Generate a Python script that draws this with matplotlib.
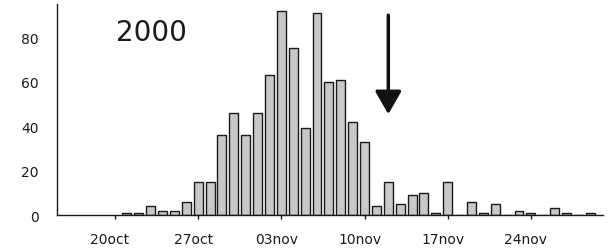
import matplotlib
matplotlib.use("Agg")
import matplotlib.pyplot as plt
import matplotlib.transforms as mtransforms
import numpy as np

# Daily counts, 21 Oct - 29 Nov 2000
days = np.arange(np.datetime64("2000-10-21"), np.datetime64("2000-11-30"))
counts = [1, 1, 4, 2, 2, 6, 15, 15, 36, 46, 36,
          46, 63, 92, 75, 39, 91, 60, 61, 42, 33,
          4, 15, 5, 9, 10, 1, 15, 0, 6, 1, 5, 0,
          2, 1, 0, 3, 1, 0, 1]
tick_dates = np.array(["2000-10-20", "2000-10-27", "2000-11-03",
                       "2000-11-10", "2000-11-17", "2000-11-24"], dtype="datetime64[D]")
tick_labels = ["20oct", "27oct", "03nov", "10nov", "17nov", "24nov"]
y_ticks = [0, 20, 40, 60, 80]
year_label = "2000"
arrow_day = np.datetime64("2000-11-12")

fig = plt.figure(figsize=(6.09, 2.53), dpi=100)
ax = fig.add_axes([0.0936, 0.146, 0.8964, 0.834])

dnum = days.astype(float)
ax.bar(dnum, counts, width=0.75, color="#c8c8c8", edgecolor="#1a1a1a", linewidth=1.0)

ax.set_xlim(tick_dates[0].astype(float) - 4.88, tick_dates[0].astype(float) + 41.06)
ax.set_ylim(0, 95)

ax.set_xticks(tick_dates.astype(float))
ax.set_xticklabels(tick_labels)
ax.set_yticks(y_ticks)

for s in ["top", "right"]:
    ax.spines[s].set_visible(False)
for s in ["left", "bottom"]:
    ax.spines[s].set_linewidth(1.0)
    ax.spines[s].set_color("#1a1a1a")

ax.tick_params(axis="x", direction="out", length=3, width=1, pad=9,
               labelsize=10, colors="#1a1a1a")
ax.tick_params(axis="y", length=0, pad=13, labelsize=10, colors="#1a1a1a")
shift = mtransforms.ScaledTranslation(-5 / 100, 0, fig.dpi_scale_trans)
for lab in ax.get_xticklabels():
    lab.set_transform(lab.get_transform() + shift)

ax.text(tick_dates[0].astype(float) + 3.1, 82.5, year_label, fontsize=20,
        ha="center", va="center", color="#1a1a1a")

ax.annotate("", xy=(arrow_day.astype(float), 45.4), xytext=(arrow_day.astype(float), 90),
            arrowprops=dict(arrowstyle="-|>,head_length=1.4,head_width=0.8",
                            color="#111111", lw=2.5, shrinkA=0, shrinkB=0))

fig.savefig("out.png", dpi=100)
